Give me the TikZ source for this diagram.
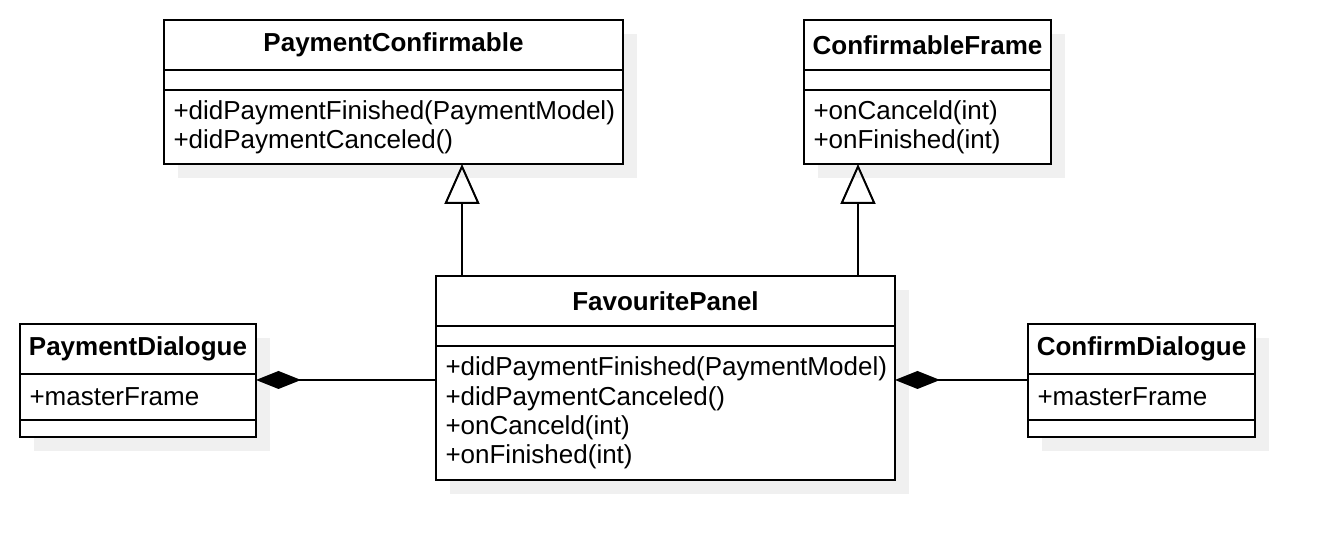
\documentclass[tikz,border=0pt]{standalone}
\usepackage{fontspec}
\setmainfont{Liberation Sans}
\usetikzlibrary{arrows.meta,positioning,shadows}
\definecolor{UmlInk}{HTML}{000000}
\definecolor{UmlShade}{HTML}{F0F0F0}
\newcommand\umlfont{\fontsize{13}{14.7}\selectfont}

\begin{document}
\begin{tikzpicture}[
    x=0.5pt, y=-0.5pt,
    umlbox/.style={draw=UmlInk,line width=1pt,fill=white,outer sep=0pt,inner ysep=2pt,font=\umlfont,
      drop shadow={shadow xshift=7pt,shadow yshift=-7pt,fill=UmlShade,opacity=1}},
    ttl/.style={umlbox,minimum width=#1,minimum height=25pt,font=\umlfont\bfseries},
    blank/.style={umlbox,minimum width=#1,minimum height=10pt},
    ops/.style={umlbox,text width=#1,inner xsep=4.75pt,align=left},
    inh/.style={-{Triangle[open,length=20pt,width=17.5pt]},line width=1pt,UmlInk},
    comp/.style={{Diamond[length=22.5pt,width=9pt]}-,line width=1pt,UmlInk}
  ]
    \fill[white] (0,0) rectangle (1334,560);
    \node[ttl=229.5pt,anchor=north west] (pc) at (164,20) {PaymentConfirmable};
    \node[blank=229.5pt,below=0pt of pc] (pcattr) {};
    \node[ops=220pt,minimum height=37pt,below=0pt of pcattr] (pcops) {+didPaymentFinished(PaymentModel)\\+didPaymentCanceled()};
    \node[ttl=123.5pt,anchor=north west] (cf) at (804,20) {ConfirmableFrame};
    \node[blank=123.5pt,below=0pt of cf] (cfattr) {};
    \node[ops=114pt,minimum height=37pt,below=0pt of cfattr] (cfops) {+onCanceld(int)\\+onFinished(int)};
    \node[ttl=229.5pt,anchor=north west] (fp) at (436,276) {FavouritePanel};
    \node[blank=229.5pt,below=0pt of fp] (fpattr) {};
    \node[ops=220pt,minimum height=67pt,below=0pt of fpattr] (fpops) {+didPaymentFinished(PaymentModel)\\+didPaymentCanceled()\\+onCanceld(int)\\+onFinished(int)};
    \node[ttl=118pt,anchor=north west] (pd) at (20,324) {PaymentDialogue};
    \node[ops=108.5pt,minimum height=23pt,below=0pt of pd] (pdattr) {+masterFrame};
    \node[blank=118pt,minimum height=8.5pt,below=0pt of pdattr] (pdops) {};
    \node[ttl=113.5pt,anchor=north west] (cd) at (1028,324) {ConfirmDialogue};
    \node[ops=104pt,minimum height=23pt,below=0pt of cd] (cdattr) {+masterFrame};
    \node[blank=113.5pt,minimum height=8.5pt,below=0pt of cdattr] (cdops) {};
    \coordinate (pcJ) at ([xshift=13pt]fp.north west);
    \coordinate (cfJ) at ([xshift=-18.5pt]fp.north east);
    \coordinate (pdJ) at ([yshift=-3pt]pdattr.north east);
    \coordinate (cdJ) at ([yshift=-3pt]cdattr.north west);
    \draw[inh] (pcJ) -- (pcJ |- pcops.south);
    \draw[inh] (cfJ) -- (cfJ |- cfops.south);
    \draw[comp] (pdJ) -- (pdJ -| fpops.west);
    \draw[comp] (cdJ -| fpops.east) -- (cdJ);
  \end{tikzpicture}
\end{document}
